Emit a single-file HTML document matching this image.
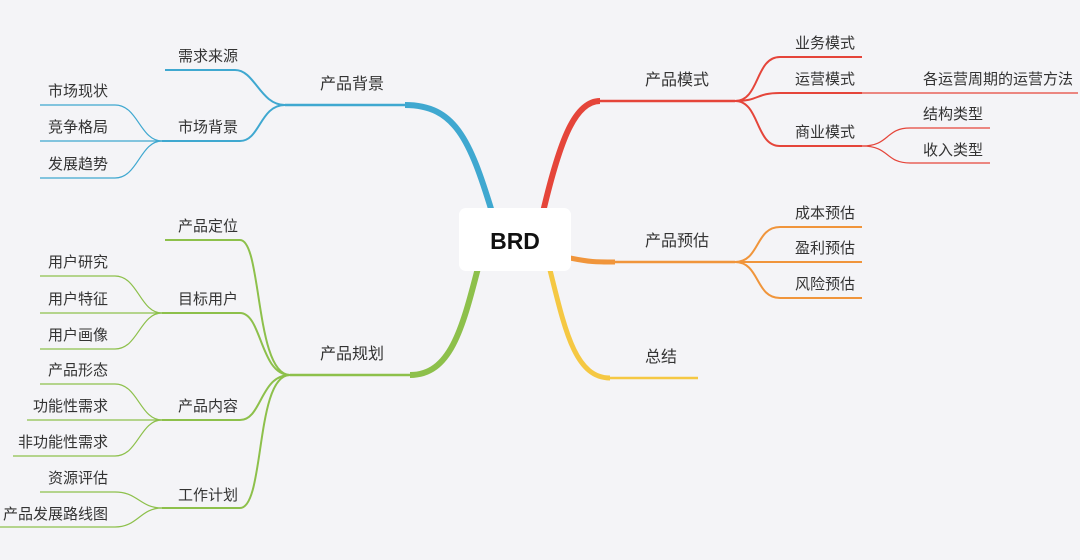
<!DOCTYPE html>
<html><head><meta charset="utf-8"><style>
html,body{margin:0;padding:0;background:#f4f4f7;}
svg{display:block;}
text{font-family:"Liberation Sans","Noto Sans CJK SC",sans-serif;font-size:15px;fill:#333;}
</style></head><body>
<svg width="1080" height="560" viewBox="0 0 1080 560" xmlns="http://www.w3.org/2000/svg">
<rect width="1080" height="560" fill="#f4f4f7"/>
<g fill="none" stroke-linecap="butt">
<!-- blue -->
<g stroke="#3fa8d0">
<path d="M492 212 C470 140 455 105 405 105" stroke-width="6"/>
<path d="M405 105 L285 105" stroke-width="2.5"/>
<path d="M285 105 C260 105 255 70 235 70 L165 70" stroke-width="2"/>
<path d="M285 105 C260 105 260 141 240 141 L162 141" stroke-width="2"/>
<path d="M162 141 C140 141 138 105 115 105 L40 105" stroke-width="1.2"/>
<path d="M162 141 L40 141" stroke-width="1.2"/>
<path d="M162 141 C140 141 138 178 115 178 L40 178" stroke-width="1.2"/>
</g>
<!-- green -->
<g stroke="#8dc04b">
<path d="M478 268 C462 330 450 375 410 375" stroke-width="6"/>
<path d="M410 375 L290 375" stroke-width="2.5"/>
<path d="M290 375 C255 375 262 240 240 240 L165 240" stroke-width="2"/>
<path d="M290 375 C260 375 262 313 240 313 L162 313" stroke-width="2"/>
<path d="M290 375 C260 375 262 420 240 420 L162 420" stroke-width="2"/>
<path d="M290 375 C255 375 265 508 240 508 L162 508" stroke-width="2"/>
<path d="M162 313 C140 313 138 276 115 276 L40 276" stroke-width="1.2"/>
<path d="M162 313 L40 313" stroke-width="1.2"/>
<path d="M162 313 C140 313 138 349 115 349 L40 349" stroke-width="1.2"/>
<path d="M162 420 C140 420 138 384 115 384 L40 384" stroke-width="1.2"/>
<path d="M162 420 L27 420" stroke-width="1.2"/>
<path d="M162 420 C140 420 138 456 115 456 L13 456" stroke-width="1.2"/>
<path d="M162 508 C140 508 138 492 115 492 L40 492" stroke-width="1.2"/>
<path d="M162 508 C140 508 138 527 115 527 L0 527" stroke-width="1.2"/>
</g>
<!-- red -->
<g stroke="#e5453a">
<path d="M543 212 C560 140 575 101 600 101" stroke-width="6"/>
<path d="M600 101 L735 101" stroke-width="2.5"/>
<path d="M735 101 C760 101 755 57 780 57 L862 57" stroke-width="2"/>
<path d="M735 101 C760 101 755 93 780 93 L862 93" stroke-width="2"/>
<path d="M862 93 L1078 93" stroke-width="1.2"/>
<path d="M735 101 C760 101 755 146 780 146 L862 146" stroke-width="2"/>
<path d="M862 146 C890 146 885 128 910 128 L990 128" stroke-width="1.2"/>
<path d="M862 146 C890 146 885 163 910 163 L990 163" stroke-width="1.2"/>
</g>
<!-- orange -->
<g stroke="#f0953b">
<path d="M570 258 C590 262 595 262 615 262" stroke-width="5"/>
<path d="M615 262 L735 262" stroke-width="2.5"/>
<path d="M735 262 C760 262 755 227 780 227 L862 227" stroke-width="2"/>
<path d="M735 262 L862 262" stroke-width="2"/>
<path d="M735 262 C760 262 755 298 780 298 L862 298" stroke-width="2"/>
</g>
<!-- yellow -->
<g stroke="#f5c843">
<path d="M550 270 C565 330 575 378 610 378" stroke-width="5"/>
<path d="M610 378 L698 378" stroke-width="2.5"/>
</g>
</g>
<rect x="459" y="208" width="112" height="63" rx="7" fill="#fff"/>
<text x="515" y="249" text-anchor="middle" style="font-size:23px;font-weight:bold;fill:#111">BRD</text>

<text x="320" y="89" style="font-size:16px">产品背景</text>
<text x="178" y="61">需求来源</text>
<text x="178" y="132">市场背景</text>
<text x="108" y="96" text-anchor="end">市场现状</text>
<text x="108" y="132" text-anchor="end">竞争格局</text>
<text x="108" y="169" text-anchor="end">发展趋势</text>

<text x="320" y="359" style="font-size:16px">产品规划</text>
<text x="178" y="231">产品定位</text>
<text x="178" y="304">目标用户</text>
<text x="178" y="411">产品内容</text>
<text x="178" y="500">工作计划</text>
<text x="108" y="267" text-anchor="end">用户研究</text>
<text x="108" y="304" text-anchor="end">用户特征</text>
<text x="108" y="340" text-anchor="end">用户画像</text>
<text x="108" y="375" text-anchor="end">产品形态</text>
<text x="108" y="411" text-anchor="end">功能性需求</text>
<text x="108" y="447" text-anchor="end">非功能性需求</text>
<text x="108" y="483" text-anchor="end">资源评估</text>
<text x="108" y="519" text-anchor="end">产品发展路线图</text>

<text x="645" y="85" style="font-size:16px">产品模式</text>
<text x="795" y="48">业务模式</text>
<text x="795" y="84">运营模式</text>
<text x="795" y="137">商业模式</text>
<text x="923" y="84">各运营周期的运营方法</text>
<text x="923" y="119">结构类型</text>
<text x="923" y="155">收入类型</text>

<text x="645" y="246" style="font-size:16px">产品预估</text>
<text x="795" y="218">成本预估</text>
<text x="795" y="253">盈利预估</text>
<text x="795" y="289">风险预估</text>

<text x="645" y="362" style="font-size:16px">总结</text>
</svg>
</body></html>
